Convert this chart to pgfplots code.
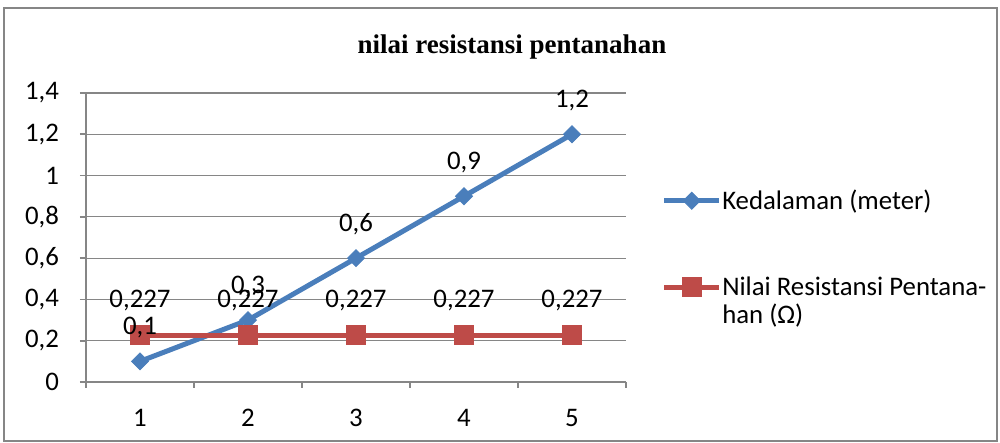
\documentclass[border=0pt]{standalone}
\usepackage{pgfplots}
\pgfplotsset{compat=1.18}
\usepackage{fontspec}
\setmainfont{Carlito}
\newfontfamily\titlefont{Liberation Serif}
\definecolor{sblue}{HTML}{4A7EBB}
\definecolor{sred}{HTML}{BE4B48}
\definecolor{gridc}{HTML}{868686}
\newcommand{\lbl}{\fontsize{13.4}{13.75}\selectfont}
\begin{document}
\begin{tikzpicture}
\useasboundingbox (-43pt,-30.5pt) rectangle (457pt,191pt);
\draw[gridc, line width=0.8pt] (-41pt,-29.5pt) rectangle (455.5pt,187pt);
\node[font=\titlefont\bfseries\fontsize{13.5}{16}\selectfont] at (213pt,167.5pt) {nilai resistansi pentanahan};
\begin{axis}[
  at={(0pt,0pt)}, anchor=south west,
  scale only axis, width=270pt, height=144.5pt,
  xmin=0.5, xmax=5.5, ymin=0, ymax=1.4,
  xtick={0.5,1.5,2.5,3.5,4.5,5.5}, xticklabels={},
  extra x ticks={1,2,3,4,5},
  extra x tick labels={1,2,3,4,5},
  extra x tick style={major tick length=0pt, xticklabel style={yshift=-10pt}},
  ytick={0,0.2,0.4,0.6,0.8,1,1.2,1.4},
  yticklabel style={xshift=-7pt},
  ticklabel style={font=\lbl, text=black},
  /pgf/number format/assume math mode=true,
  /pgf/number format/use comma,
  /pgf/number format/precision=3,
  ymajorgrids, major grid style={gridc, line width=0.6pt},
  axis x line*=bottom, axis y line*=left,
  axis line style={gridc, line width=0.8pt, -},
  tick align=outside, major tick length=3pt,
  tick style={gridc, line width=0.8pt},
  legend style={draw=none, fill=none, at={(axis description cs:1.059,0.478)}, anchor=west,
    legend cell align=left, row sep=30pt, font=\lbl, nodes={inner sep=1pt}},
  legend image code/.code={\draw[overlay, mark repeat=2, mark phase=2, #1] plot coordinates {(0pt,0pt) (13.75pt,0pt) (27.5pt,0pt)};
     \path[draw=none, fill=none] (0pt,-4pt) rectangle (28pt,4pt);},
]
\addplot[sblue, line width=2.5pt, mark=square*, mark size=3pt, mark options={rotate=45, line width=0.4pt, fill=sblue}]
  coordinates {(1,0.1) (2,0.3) (3,0.6) (4,0.9) (5,1.2)};
\addlegendentry{Kedalaman (meter)}
\addplot[sred, line width=2.5pt, mark=square*, mark size=4.8pt, mark options={line width=0.4pt, fill=sred},
  nodes near coords, every node near coord/.append style={font=\lbl, text=black, anchor=center, yshift=17.5pt}]
  coordinates {(1,0.227) (2,0.227) (3,0.227) (4,0.227) (5,0.227)};
\addlegendentry{\begin{tabular}[t]{@{}l@{}}Nilai Resistansi Pentana-\\han (Ω)\end{tabular}}
\addplot[draw=none, mark=none, forget plot, nodes near coords,
  every node near coord/.append style={font=\lbl, text=black, anchor=center, yshift=17pt}]
  coordinates {(1,0.1) (2,0.3) (3,0.6) (4,0.9) (5,1.2)};
\end{axis}
\end{tikzpicture}
\end{document}
